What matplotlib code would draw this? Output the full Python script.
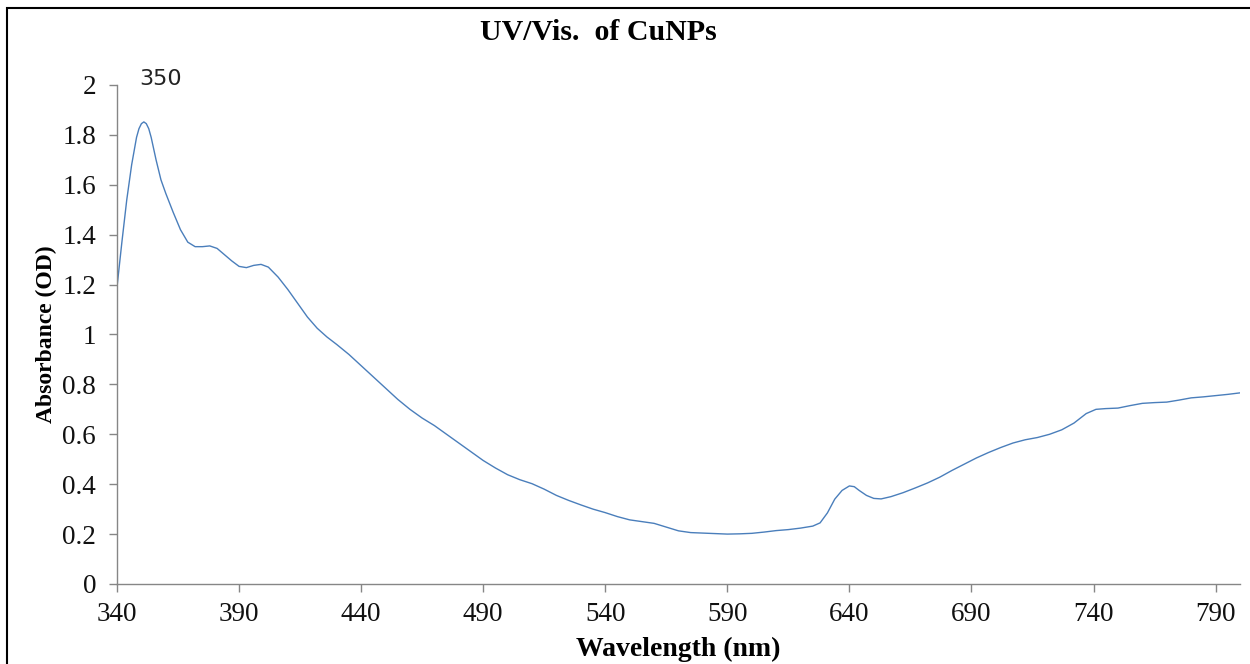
import matplotlib
matplotlib.use("Agg")
import matplotlib.pyplot as plt
from matplotlib.patches import Rectangle

# Spectrum (wavelength in nm, absorbance in OD)
wavelength = [340, 342, 344, 346, 348, 349, 350, 351, 352, 353, 354, 356, 358, 360, 363, 366, 369,
              372, 375, 378, 381, 384, 387, 390, 393, 396, 399, 402, 406, 410, 414, 418,
              422, 426, 430, 435, 440, 445, 450, 455, 460, 465, 470, 475, 480, 485, 490,
              495, 500, 505, 510, 515, 520, 525, 530, 535, 540, 545, 550, 555, 560, 565,
              570, 575, 580, 585, 590, 595, 600, 605, 610, 615, 620, 625, 628, 631, 634,
              637, 640, 642, 644, 647, 650, 653, 657, 662, 667, 672, 677, 682, 687, 692,
              697, 702, 707, 712, 717, 722, 727, 732, 737, 741, 745, 750, 755, 760, 765,
              770, 775, 780, 785, 790, 795, 800]
absorbance = [1.19, 1.37, 1.54, 1.68, 1.79, 1.825, 1.845, 1.852, 1.845, 1.825, 1.79, 1.70, 1.62, 1.565, 1.49, 1.42, 1.37,
              1.352, 1.352, 1.355, 1.345, 1.32, 1.295, 1.273, 1.268, 1.277, 1.281, 1.27, 1.23, 1.18, 1.125, 1.07,
              1.025, 0.99, 0.96, 0.92, 0.875, 0.83, 0.785, 0.74, 0.70, 0.665, 0.635, 0.60, 0.565, 0.53, 0.495,
              0.465, 0.438, 0.418, 0.402, 0.38, 0.355, 0.335, 0.317, 0.30, 0.286, 0.27, 0.257, 0.25, 0.243, 0.228,
              0.213, 0.206, 0.204, 0.202, 0.200, 0.201, 0.203, 0.208, 0.214, 0.218, 0.224, 0.232, 0.245, 0.285, 0.34,
              0.375, 0.393, 0.39, 0.375, 0.355, 0.343, 0.341, 0.35, 0.366, 0.385, 0.405, 0.428, 0.455, 0.48, 0.505,
              0.527, 0.547, 0.565, 0.578, 0.587, 0.60, 0.618, 0.645, 0.683, 0.70, 0.703, 0.705, 0.715, 0.724, 0.727,
              0.729, 0.737, 0.746, 0.75, 0.755, 0.76, 0.766]

x_ticks = [340, 390, 440, 490, 540, 590, 640, 690, 740, 790]
y_ticks = [0, 0.2, 0.4, 0.6, 0.8, 1, 1.2, 1.4, 1.6, 1.8, 2]
y_tick_labels = ["0", "0.2", "0.4", "0.6", "0.8", "1", "1.2", "1.4", "1.6", "1.8", "2"]
peak_label = "350"

serif = "Liberation Serif"
axis_gray = "#868686"

fig = plt.figure(figsize=(12.5, 6.64), dpi=100)
ax = fig.add_axes([0.0936, 0.1205, 0.8984, 0.7515])

ax.plot(wavelength, absorbance, color="#4a7ebb", linewidth=1.0)

ax.set_xlim(340, 800)
ax.set_ylim(0, 2)
ax.set_xticks(x_ticks)
ax.set_yticks(y_ticks)
ax.set_yticklabels(y_tick_labels)

for side in ["top", "right"]:
    ax.spines[side].set_visible(False)
for side in ["left", "bottom"]:
    ax.spines[side].set_color(axis_gray)
    ax.spines[side].set_linewidth(1.0)

ax.tick_params(axis="both", direction="out", length=6, width=1.0, color=axis_gray,
               labelsize=19.5, labelcolor="#111111")
ax.tick_params(axis="y", pad=9)
ax.tick_params(axis="x", pad=7)
for lab in ax.get_xticklabels() + ax.get_yticklabels():
    lab.set_family(serif)

ax.set_xlabel("Wavelength (nm)", family=serif, fontweight="bold", fontsize=20, labelpad=7)
ax.set_ylabel("Absorbance (OD)", family=serif, fontweight="bold", fontsize=17, labelpad=4)

# peak annotation
ax.text(358, 1.985, peak_label, fontsize=16, color="#222222", ha="center", va="bottom",
        family="DejaVu Sans")

fig.text(0.479, 0.951, "UV/Vis.  of CuNPs", family=serif, fontweight="bold", fontsize=21.5,
         ha="center", va="center")

# black frame around the chart area (right/bottom edges fall outside the image)
fig.add_artist(Rectangle((0.0056, -0.05), 1.1, 1.038, transform=fig.transFigure,
                         fill=False, edgecolor="black", linewidth=1.5, clip_on=False))

fig.savefig("out.png", dpi=100)
